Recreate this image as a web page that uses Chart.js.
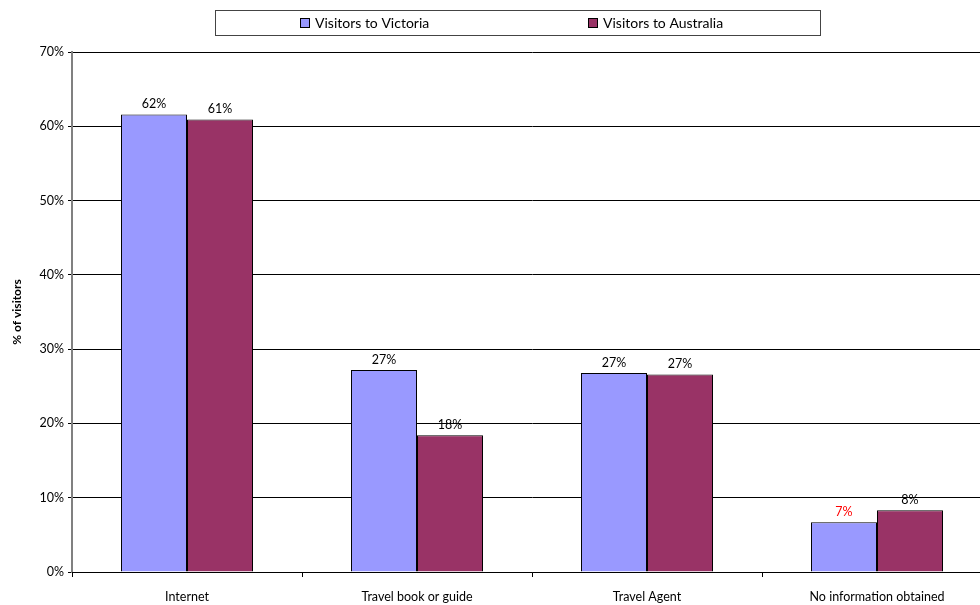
<!DOCTYPE html>
<html>
<head>
<meta charset="utf-8">
<script src="https://cdn.jsdelivr.net/npm/chart.js@4"></script>
<style>
  html, body { margin: 0; padding: 0; background: #fff; overflow: hidden; }
  #clip { width: 980px; height: 605px; overflow: hidden; }
  #wrap { width: 992px; height: 605px; }
</style>
</head>
<body>
<div id="clip"><div id="wrap"><canvas id="sourcesChart"></canvas></div></div>
<script>
// data
const categories = ['Internet', 'Travel book or guide', 'Travel Agent', 'No information obtained'];
const victoria = [61.6, 27.2, 26.8, 6.7];
const australia = [60.9, 18.4, 26.6, 8.3];
const yTicks = [0, 10, 20, 30, 40, 50, 60, 70];

const FONT = 'Lato, "DejaVu Sans", sans-serif';

// value labels above bars
const barLabels = {
    id: 'barLabels',
    afterDatasetsDraw(chart) {
        const ctx = chart.ctx;
        ctx.save();
        ctx.font = '12.5px ' + FONT;
        ctx.textAlign = 'center';
        ctx.textBaseline = 'bottom';
        chart.data.datasets.forEach((ds, i) => {
            chart.getDatasetMeta(i).data.forEach((bar, j) => {
                ctx.fillStyle = (ds.labelColors && ds.labelColors[j]) || '#000';
                ctx.fillText(Math.round(ds.data[j]) + '%', bar.x, bar.y - 4);
            });
        });
        ctx.restore();
    }
};

// boxed legend like the original
const boxLegend = {
    id: 'boxLegend',
    afterDraw(chart) {
        const ctx = chart.ctx;
        ctx.save();
        ctx.strokeStyle = '#444';
        ctx.lineWidth = 1;
        ctx.strokeRect(215.5, 10.5, 605, 25);
        const xs = [300, 588];
        ctx.font = '14px ' + FONT;
        ctx.textBaseline = 'middle';
        chart.data.datasets.forEach((ds, i) => {
            ctx.fillStyle = ds.backgroundColor;
            ctx.fillRect(xs[i], 18, 10, 10);
            ctx.strokeStyle = '#000';
            ctx.strokeRect(xs[i] + 0.5, 18.5, 9, 9);
            ctx.fillStyle = '#000';
            ctx.fillText(ds.label, xs[i] + 15, 23);
        });
        ctx.restore();
    }
};

new Chart(document.getElementById('sourcesChart'), {
    type: 'bar',
    data: {
        labels: categories,
        datasets: [
            {
                label: 'Visitors to Victoria',
                data: victoria,
                backgroundColor: '#9999FF',
                borderColor: '#000',
                borderWidth: 1,
                labelColors: ['#000', '#000', '#000', '#FF0000']
            },
            {
                label: 'Visitors to Australia',
                data: australia,
                backgroundColor: '#993366',
                borderColor: '#000',
                borderWidth: 1
            }
        ]
    },
    options: {
        responsive: true,
        maintainAspectRatio: false,
        animation: false,
        layout: { padding: { top: 52, right: 0, bottom: 0, left: 0 } },
        datasets: { bar: { categoryPercentage: 0.574, barPercentage: 1 } },
        plugins: {
            legend: { display: false },
            tooltip: { enabled: false }
        },
        scales: {
            y: {
                min: 0,
                max: 70,
                afterBuildTicks: (scale) => { scale.ticks = yTicks.map(v => ({ value: v })); },
                afterFit: (scale) => { scale.width = 72; },
                ticks: {
                    callback: v => v + '%',
                    color: '#000',
                    padding: 4,
                    font: { family: FONT, size: 12.5 }
                },
                grid: { color: '#000', lineWidth: 1, tickLength: 4 },
                border: { color: '#808080', width: 2 },
                title: {
                    display: true,
                    text: '% of visitors',
                    color: '#000',
                    padding: { top: 10, bottom: 8 },
                    font: { family: FONT, size: 12, weight: 'bold' }
                }
            },
            x: {
                afterFit: (scale) => { scale.height = 33; },
                ticks: {
                    color: '#000',
                    padding: 12,
                    maxRotation: 0,
                    font: { family: FONT, size: 12.5 }
                },
                grid: { drawOnChartArea: false, drawTicks: true, tickLength: 5, color: '#000', offset: true },
                border: { color: '#000', width: 1 }
            }
        }
    },
    plugins: [barLabels, boxLegend]
});
</script>
</body>
</html>
